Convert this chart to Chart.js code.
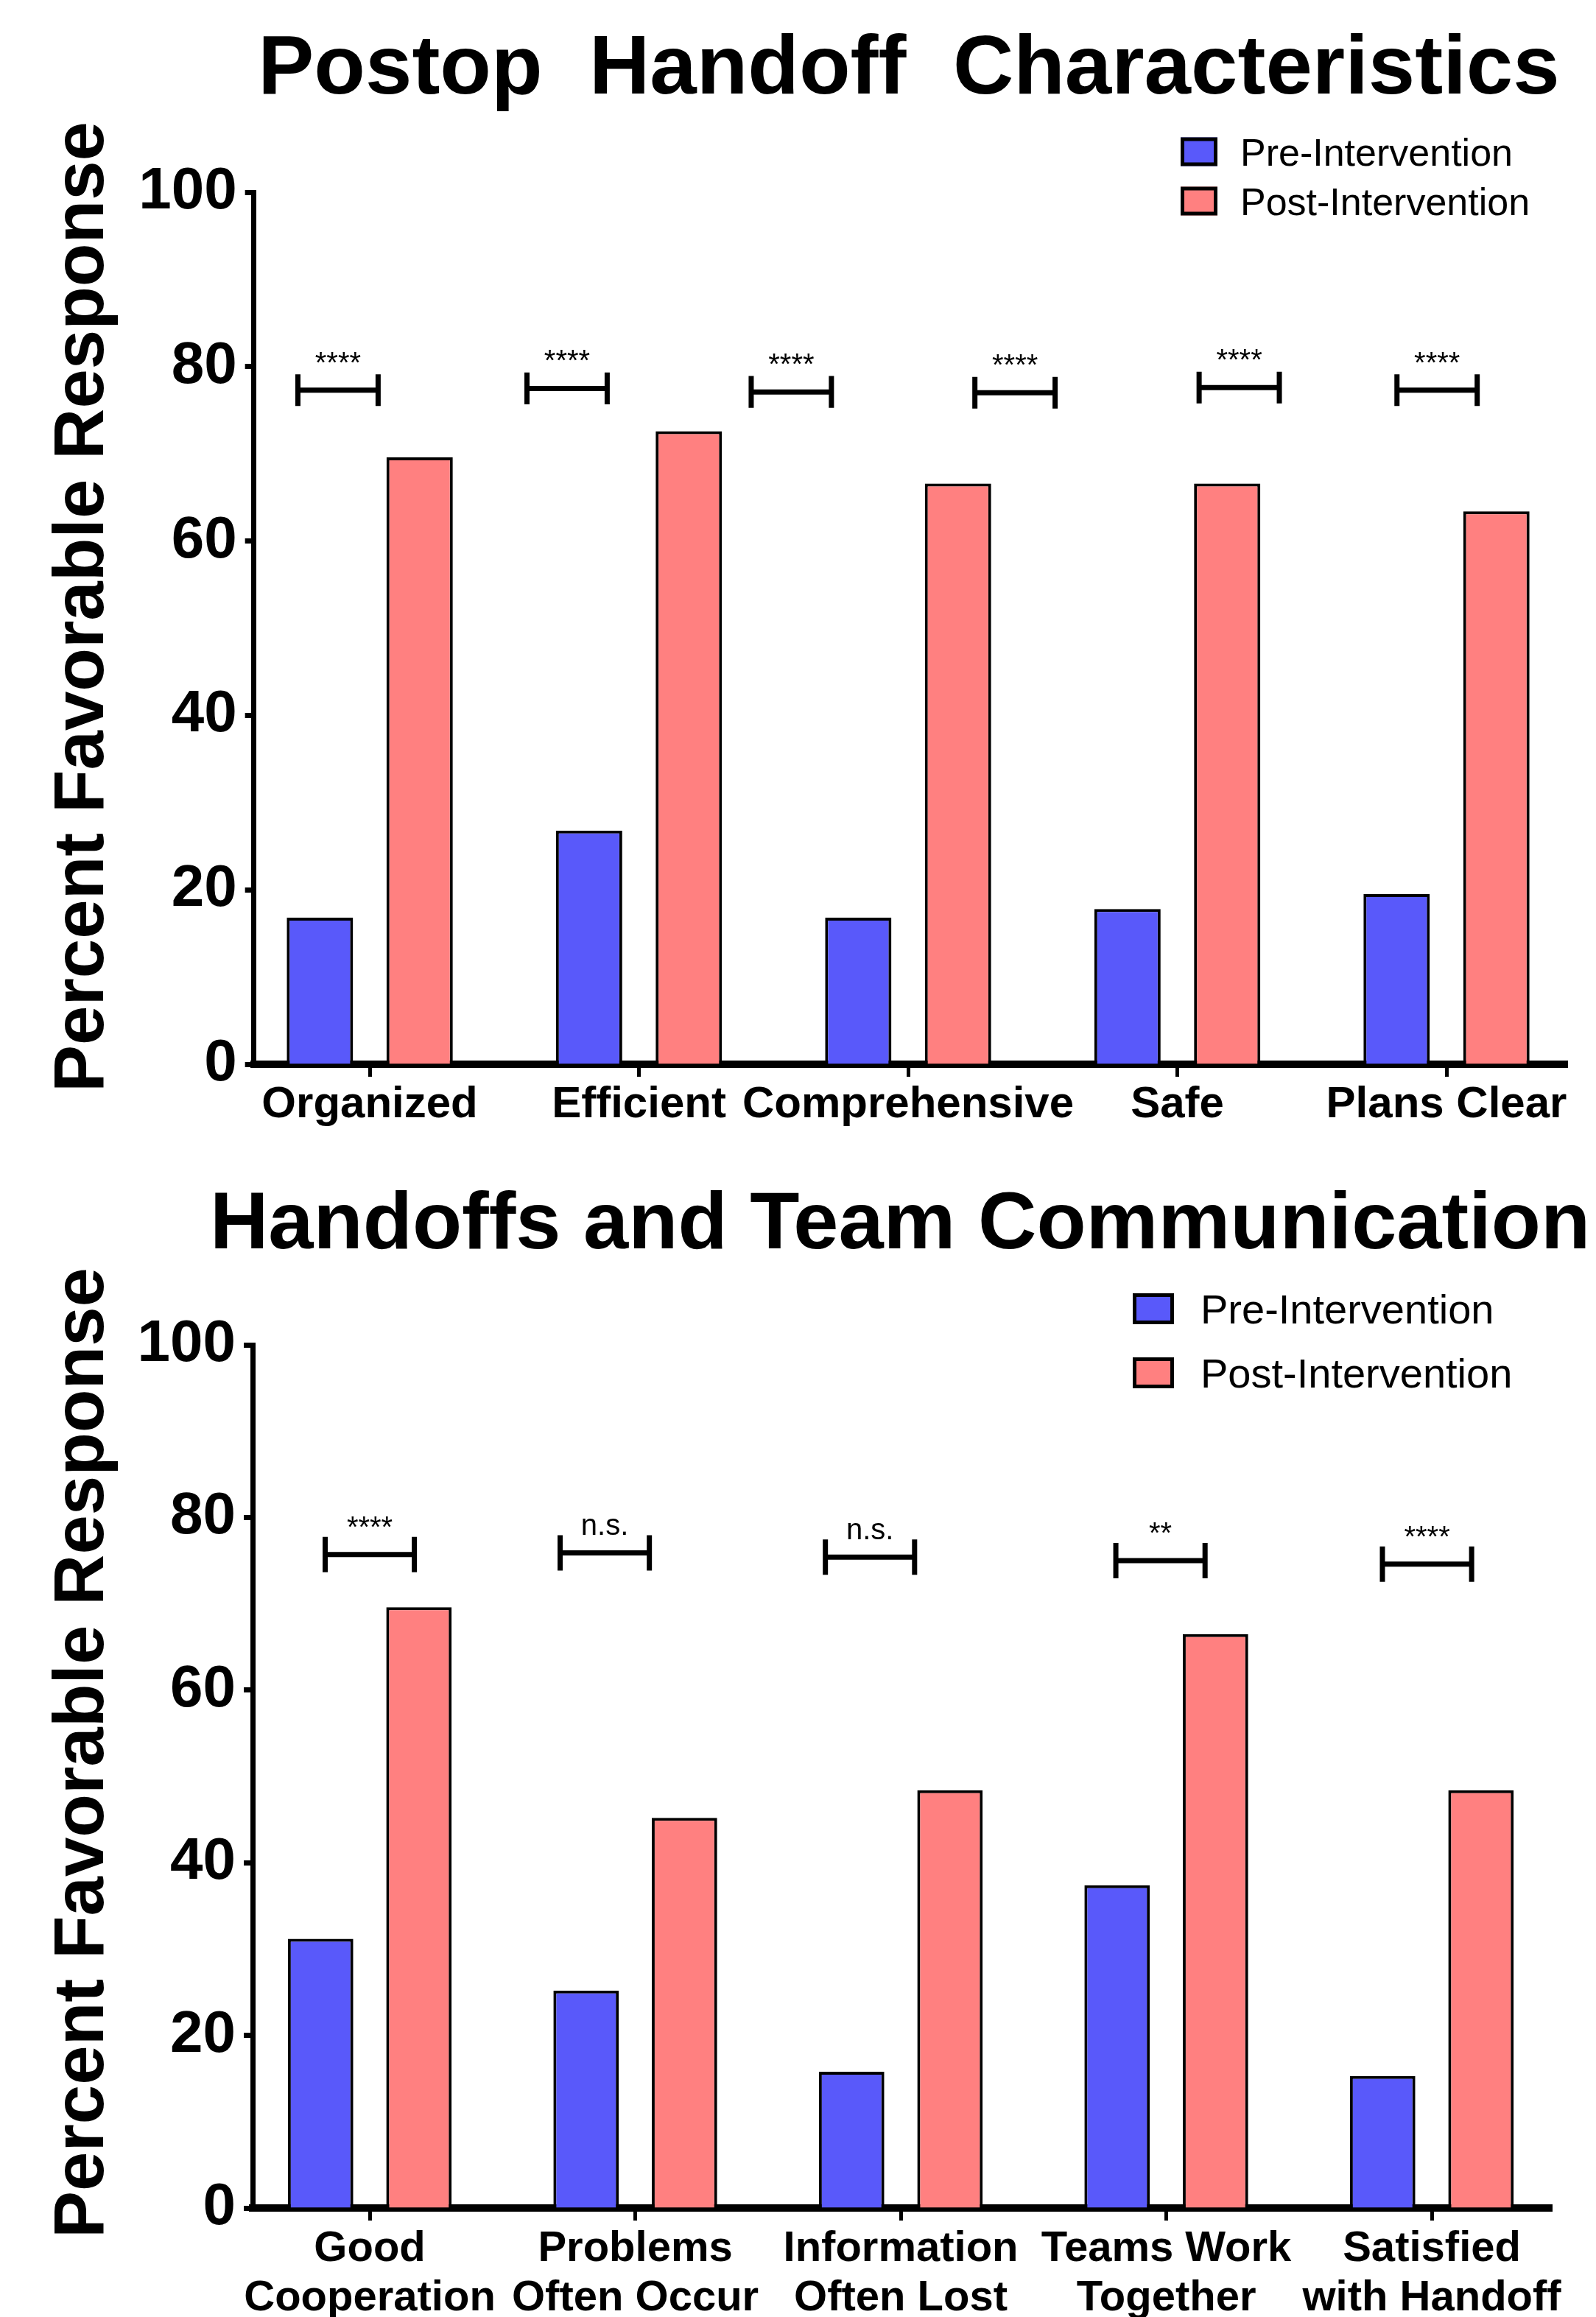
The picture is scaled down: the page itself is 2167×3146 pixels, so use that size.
<!DOCTYPE html>
<html lang="en">
<head>
<meta charset="UTF-8">
<title>Postop Handoff Survey</title>
<script src="https://cdn.jsdelivr.net/npm/chart.js"></script>
<style>
  html, body { margin: 0; padding: 0; background: #fff; overflow: hidden; }
  canvas { display: block; }
</style>
</head>
<body>
<canvas id="chartTop" width="2167" height="1560"></canvas>
<canvas id="chartBottom" width="2167" height="1600"></canvas>
<script>
// Percent favorable responses, pre vs post intervention
const topCategories = ['Organized', 'Efficient', 'Comprehensive', 'Safe', 'Plans Clear'];
const topPre = [16.8, 26.8, 16.8, 17.8, 19.5];
const topPost = [69.6, 72.6, 66.6, 66.6, 63.4];
// significance marks (x in category units, level in percent)
const topSigText = ['****', '****', '****', '****', '****', '****'];
const topSigAt = [-0.118, 0.733, 1.566, 2.397, 3.23, 3.965];
const topSigLevel = [77.3, 77.5, 77.1, 77.0, 77.6, 77.3];

const bottomCategories = [
  ['Good', 'Cooperation'],
  ['Problems', 'Often Occur'],
  ['Information', 'Often Lost'],
  ['Teams Work', 'Together'],
  ['Satisfied', 'with Handoff']
];
const bottomPre = [31.2, 25.2, 15.8, 37.4, 15.3];
const bottomPost = [69.6, 45.2, 48.4, 66.5, 48.4];
const bottomSigText = ['****', 'n.s.', 'n.s.', '**', '****'];
const bottomSigAt = [0, 0.885, 1.884, 2.978, 3.982];
const bottomSigLevel = [75.7, 75.9, 75.4, 75.0, 74.6];

const PRE_COLOR = '#5959FA';
const POST_COLOR = '#FF8080';
const FONT = "'Liberation Sans', Arial, Helvetica, sans-serif";

Chart.defaults.font.family = FONT;
Chart.defaults.color = '#000';

// title, y-axis caption, legend and significance brackets
const figurePlugin = {
  id: 'figure',
  afterDatasetsDraw(chart, args, opts) {
    const ctx = chart.ctx;
    const xs = chart.scales.x;
    const ys = chart.scales.y;
    ctx.save();
    ctx.fillStyle = '#000';
    ctx.strokeStyle = '#000';

    // brackets
    const sig = opts.sig;
    sig.text.forEach((t, i) => {
      const xl = xs.getPixelForValue(sig.at[i] - sig.half);
      const xr = xs.getPixelForValue(sig.at[i] + sig.half);
      const yl = ys.getPixelForValue(sig.level[i]);
      const yt = ys.getPixelForValue(sig.level[i] + sig.cap);
      const yb = ys.getPixelForValue(sig.level[i] - sig.cap);
      ctx.lineWidth = 7;
      ctx.beginPath();
      ctx.moveTo(xl, yl); ctx.lineTo(xr, yl);
      ctx.moveTo(xl, yt); ctx.lineTo(xl, yb);
      ctx.moveTo(xr, yt); ctx.lineTo(xr, yb);
      ctx.stroke();
      ctx.font = sig.size + 'px ' + FONT;
      ctx.textAlign = 'center';
      ctx.textBaseline = 'alphabetic';
      ctx.fillText(t, (xl + xr) / 2, yl - sig.gap);
    });

    // legend
    const leg = opts.legend;
    ctx.font = leg.size + 'px ' + FONT;
    ctx.textAlign = 'left';
    chart.data.datasets.forEach((ds, i) => {
      const cy = leg.y + i * leg.spacing;
      const top = cy - leg.boxH / 2;
      ctx.fillStyle = ds.backgroundColor;
      ctx.fillRect(leg.x, top, leg.boxW, leg.boxH);
      ctx.lineWidth = 5;
      ctx.strokeRect(leg.x + 2.5, top + 2.5, leg.boxW - 5, leg.boxH - 5);
      ctx.fillStyle = '#000';
      ctx.fillText(ds.label, leg.textX, cy + leg.size * 0.358);
    });

    // chart title
    const ttl = opts.title;
    ctx.font = 'bold ' + ttl.size + 'px ' + FONT;
    ctx.textAlign = 'center';
    ctx.fillText(ttl.text, ttl.x, ttl.y);

    // y-axis caption
    const cap = opts.yCaption;
    ctx.translate(cap.x, cap.y);
    ctx.rotate(-Math.PI / 2);
    ctx.font = 'bold ' + cap.size + 'px ' + FONT;
    ctx.textBaseline = 'middle';
    ctx.fillText(cap.text, 0, 0);
    ctx.restore();
  }
};

function makeChart(id, d) {
  return new Chart(document.getElementById(id), {
    type: 'bar',
    plugins: [figurePlugin],
    data: {
      datasets: [
        {
          label: 'Pre-Intervention',
          data: d.pre.map((v, i) => ({ x: i, y: v })),
          backgroundColor: PRE_COLOR,
          borderColor: '#000',
          borderWidth: 4
        },
        {
          label: 'Post-Intervention',
          data: d.post.map((v, i) => ({ x: i, y: v })),
          backgroundColor: POST_COLOR,
          borderColor: '#000',
          borderWidth: 4
        }
      ]
    },
    options: {
      responsive: false,
      animation: false,
      categoryPercentage: 0.741,
      barPercentage: 0.665,
      layout: { padding: d.padding },
      plugins: {
        legend: { display: false },
        tooltip: { enabled: false },
        figure: {
          title: d.title,
          legend: d.legend,
          sig: d.sig,
          yCaption: { text: 'Percent Favorable Response', size: 96, x: 114, y: d.captionY }
        }
      },
      scales: {
        x: {
          type: 'linear',
          min: d.xMin,
          max: d.xMax,
          offset: false,
          afterBuildTicks: scale => {
            scale.ticks = d.categories.map((_, i) => ({ value: i }));
          },
          ticks: {
            autoSkip: false,
            maxRotation: 0,
            minRotation: 0,
            padding: d.xPad,
            color: '#000',
            font: { size: d.xFont, weight: 'bold', lineHeight: d.xLine },
            callback: v => d.categories[v]
          },
          grid: {
            offset: false,
            drawOnChartArea: false,
            tickLength: 17,
            tickWidth: 5,
            tickColor: '#000'
          },
          border: { display: true, color: '#000', width: 10 }
        },
        y: {
          min: 0,
          max: 100,
          ticks: {
            stepSize: 20,
            padding: 11,
            color: '#000',
            font: { size: 80, weight: 'bold' }
          },
          grid: { drawOnChartArea: false, tickLength: 12, tickWidth: 7, tickColor: '#000' },
          border: { display: true, color: '#000', width: 7 }
        }
      }
    }
  });
}

makeChart('chartTop', {
  categories: topCategories,
  pre: topPre,
  post: topPost,
  xMin: -0.4306,
  xMax: 4.4487,
  xPad: 2,
  xFont: 60,
  xLine: 1.2,
  padding: { left: 177.2, right: 39, top: 261, bottom: 22 },
  captionY: 824,
  title: { text: 'Postop  Handoff  Characteristics', size: 114, x: 1234, y: 127 },
  legend: { x: 1603, y: 206, spacing: 67, boxW: 50, boxH: 39, textX: 1684, size: 52 },
  sig: { text: topSigText, at: topSigAt, level: topSigLevel, half: 0.149, cap: 1.82, gap: 24, size: 40 }
});

makeChart('chartBottom', {
  categories: bottomCategories,
  pre: bottomPre,
  post: bottomPost,
  xMin: -0.441,
  xMax: 4.452,
  xPad: 4.6,
  xFont: 58,
  xLine: 1.17,
  padding: { left: 175.6, right: 60, top: 266, bottom: 0 },
  captionY: 820,
  title: { text: 'Handoffs and Team Communication', size: 110, x: 1222, y: 135 },
  legend: { x: 1538, y: 217, spacing: 87, boxW: 56, boxH: 42, textX: 1630, size: 56 },
  sig: { text: bottomSigText, at: bottomSigAt, level: bottomSigLevel, half: 0.168, cap: 2.05, gap: 24, size: 40 }
});
</script>
</body>
</html>
